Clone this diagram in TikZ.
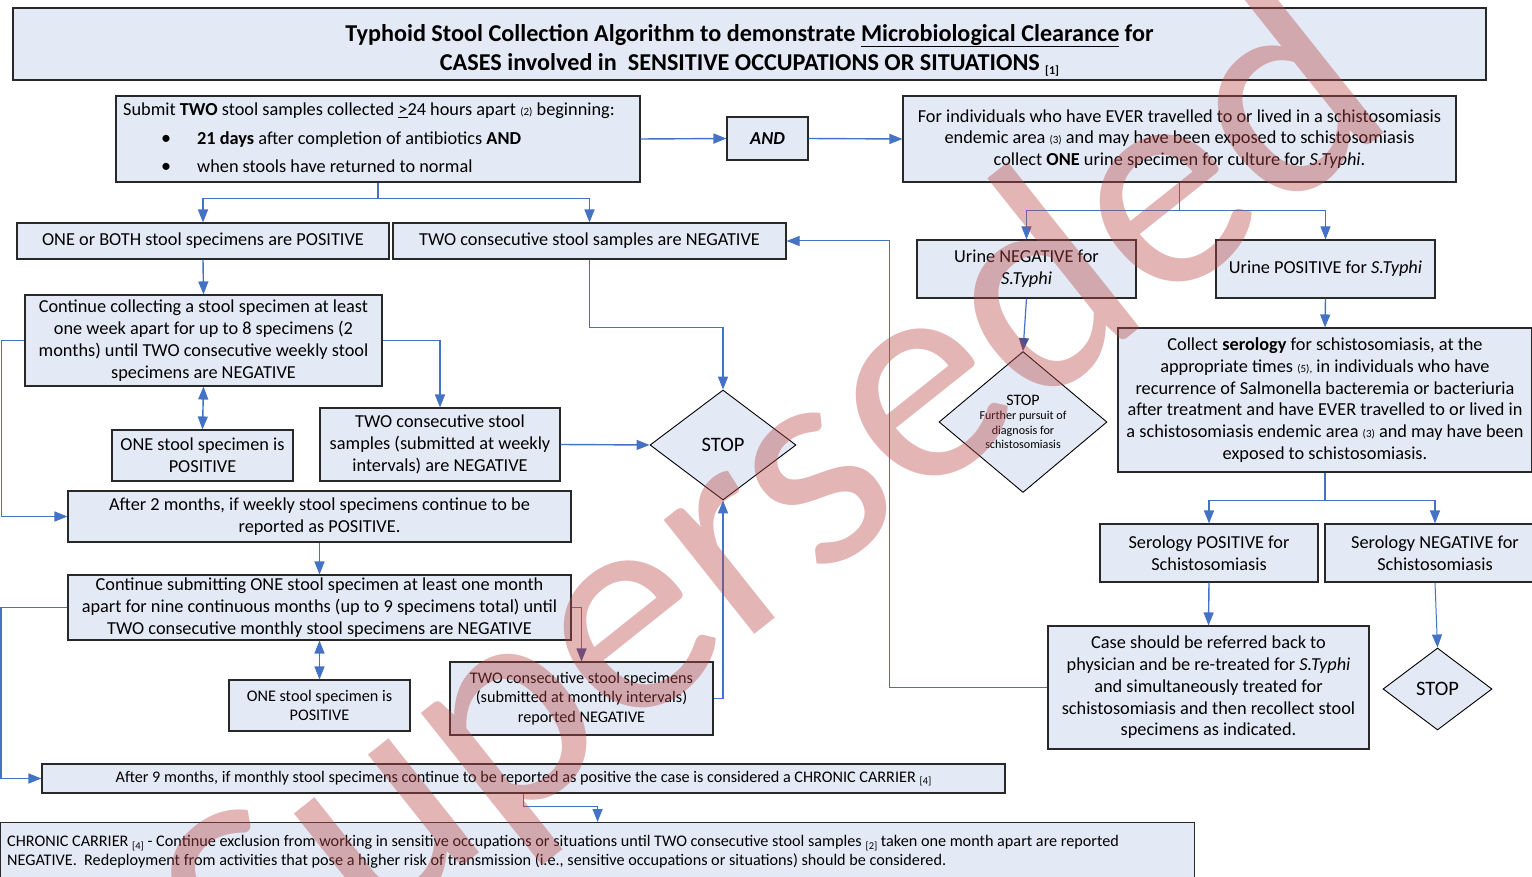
\documentclass[tikz,border=0pt]{standalone}
\usepackage{fontspec}
\setmainfont{Carlito}
\usetikzlibrary{arrows.meta,shapes.geometric,calc}
\definecolor{boxfill}{RGB}{228,234,245}
\definecolor{boxline}{RGB}{40,40,40}
\definecolor{arrblue}{RGB}{68,114,196}
\definecolor{arrnavy}{RGB}{70,80,150}
\definecolor{wmred}{RGB}{185,70,70}
\newcommand{\rf}[1]{{\fontsize{11}{11}\selectfont #1}}
\newcommand{\rfs}[1]{\raisebox{-2.5pt}{\fontsize{10.5}{11}\selectfont #1}}
\begin{document}
\begin{tikzpicture}[x=1pt,y=-1pt,
  box/.style={draw=boxline, fill=boxfill, line width=1.1pt, align=center, inner sep=1pt, font=\fontsize{18.3}{22}\selectfont},
  sbox/.style={box, font=\fontsize{16.2}{19.5}\selectfont},
  dia/.style={diamond, draw=black, fill=boxfill, line width=0.9pt, inner sep=0pt, align=center},
  arr/.style={draw=arrblue, line width=1.4pt, -{Triangle[length=13pt,width=10pt]}},
  arrn/.style={draw=arrblue, line width=1.2pt, -{Triangle[length=13pt,width=10pt,color=arrnavy]}},
  darr/.style={draw=arrblue, line width=1.4pt, {Triangle[length=13pt,width=10pt]}-{Triangle[length=13pt,width=10pt]}},
  thin/.style={draw=arrblue, line width=1.0pt, -{Triangle[length=13pt,width=10pt]}}
]
\fill[white] (0,0) rectangle (1532,877);
\useasboundingbox (0,0) rectangle (1532,877);

% title
\node[box, minimum width=1473, minimum height=72] (title) at (749.5,44) {};
\node[align=center, inner sep=0pt, font=\fontsize{24.2}{29}\selectfont\bfseries] (titletxt) at (749.5,50)
 {Typhoid Stool Collection Algorithm to demonstrate \underline{Microbiological Clearance} for\\
  CASES involved in\ \ SENSITIVE OCCUPATIONS OR SITUATIONS \raisebox{-4pt}{\fontsize{12}{12}\selectfont[1]}};

% left top
\node[box, minimum width=524, minimum height=86] (submit) at (378,139) {};
\node[anchor=west, align=left, inner sep=0pt, font=\fontsize{18.3}{28.5}\selectfont] (submittxt) at (123,138)
 {Submit \textbf{TWO} stool samples collected \underline{>}24 hours apart \rf{(2)} beginning:\\
  \hspace*{38pt}\makebox[36pt][l]{\fontsize{20}{20}\selectfont\textbullet}\textbf{21 days} after completion of antibiotics \textbf{AND}\\
  \hspace*{38pt}\makebox[36pt][l]{\fontsize{20}{20}\selectfont\textbullet}when stools have returned to normal};
\node[box, minimum width=81, minimum height=43] (and) at (767.5,138.5) {\textbf{\textit{AND}}};
\node[box, minimum width=553, minimum height=86, font=\fontsize{18.3}{21.5}\selectfont] (urine) at (1179.5,139)
 {For individuals who have EVER travelled to or lived in a schistosomiasis\\
  endemic area \rf{(3)} and may have been exposed to schistosomiasis\\
  collect \textbf{ONE} urine specimen for culture for \textit{S.Typhi}.};

\node[box, minimum width=372, minimum height=36] (pos) at (203,241) {ONE or BOTH stool specimens are POSITIVE};
\node[box, minimum width=393, minimum height=36] (neg) at (589.5,241) {TWO consecutive stool samples are NEGATIVE};
\node[box, minimum width=357, minimum height=91] (cont1) at (203.5,340.5)
 {Continue collecting a stool specimen at least\\ one week apart for up to 8 specimens (2\\ months) until TWO consecutive weekly stool\\ specimens are NEGATIVE};
\node[box, minimum width=181, minimum height=51] (one1) at (202.5,455.5) {ONE stool specimen is\\ POSITIVE};
\node[box, minimum width=240, minimum height=73] (two1) at (440,444.5)
 {TWO consecutive stool\\ samples (submitted at weekly\\ intervals) are NEGATIVE};
\node[dia, minimum width=146, minimum height=110, font=\fontsize{20.5}{22}\selectfont] (stop1) at (723,445) {STOP};
\node[box, minimum width=503, minimum height=51] (after2) at (319.5,516.5)
 {After 2 months, if weekly stool specimens continue to be\\ reported as POSITIVE.};
\node[box, minimum width=503, minimum height=65] (cont2) at (319.5,607.5)
 {Continue submitting ONE stool specimen at least one month\\ apart for nine continuous months (up to 9 specimens total) until\\ TWO consecutive monthly stool specimens are NEGATIVE};
\node[sbox, minimum width=181, minimum height=51] (one2) at (319.5,705.5) {ONE stool specimen is\\ POSITIVE};
\node[sbox, minimum width=263, minimum height=73] (two2) at (581.5,698.5)
 {TWO consecutive stool specimens\\ (submitted at monthly intervals)\\ reported NEGATIVE};
\node[sbox, minimum width=963, minimum height=29] (after9) at (523.5,778.5)
 {After 9 months, if monthly stool specimens continue to be reported as positive the case is considered a CHRONIC CARRIER \rfs{[4]}};
\node[box, minimum width=1194, minimum height=62, anchor=north west] (chronic) at (0,822) {};
\node[anchor=west, align=left, inner sep=0pt, font=\fontsize{16.2}{19}\selectfont] (chronictxt) at (7,852)
 {CHRONIC CARRIER \rfs{[4]} - Continue exclusion from working in sensitive occupations or situations until TWO consecutive stool samples \rfs{[2]} taken one month apart are reported\\
  NEGATIVE.\ \ Redeployment from activities that pose a higher risk of transmission (i.e., sensitive occupations or situations) should be considered.};

% right side
\node[box, minimum width=219, minimum height=58] (uneg) at (1026.5,269) {Urine NEGATIVE for\\ \textit{S.Typhi}};
\node[box, minimum width=219, minimum height=58] (upos) at (1325.5,269) {Urine POSITIVE for \textit{S.Typhi}};
\node[dia, minimum width=168, minimum height=130, font=\fontsize{12.1}{14.5}\selectfont] (stop2) at (1023,422)
 {{\fontsize{16}{17}\selectfont STOP}\\[0pt] Further pursuit of\\ diagnosis for\\ schistosomiasis};
\node[box, minimum width=414, minimum height=144, font=\fontsize{18.3}{21.8}\selectfont] (sero) at (1325,400)
 {Collect \textbf{serology} for schistosomiasis, at the\\ appropriate times \rf{(5),} in individuals who have\\ recurrence of Salmonella bacteremia or bacteriuria\\ after treatment and have EVER travelled to or lived in\\ a schistosomiasis endemic area \rf{(3)} and may have been\\ exposed to schistosomiasis.};
\node[box, minimum width=218, minimum height=58] (spos) at (1209,553) {Serology POSITIVE for\\ Schistosomiasis};
\node[box, minimum width=220, minimum height=58] (sneg) at (1435,553) {Serology NEGATIVE for\\ Schistosomiasis};
\node[box, minimum width=321, minimum height=123, font=\fontsize{18.3}{21.7}\selectfont] (case) at (1208.5,687.5)
 {Case should be referred back to\\ physician and be re-treated for \textit{S.Typhi}\\ and simultaneously treated for\\ schistosomiasis and then recollect stool\\ specimens as indicated.};
\node[dia, minimum width=109, minimum height=82, font=\fontsize{20.5}{22}\selectfont] (stop3) at (1437.5,689) {STOP};

% connectors
\draw[arr] (submit.east) -- (and.west);
\draw[arr] (and.east) -- (urine.west);
\coordinate (j1) at ($(submit.south)+(0,16)$);
\draw[draw=arrblue, line width=1.4pt] (submit.south) -- (j1);
\draw[arr] (j1) -| (pos.north);
\draw[arr] (j1) -| (neg.north);
\draw[arr] (pos.south) -- (cont1.north);
\draw[darr] (cont1.south) -- (one1.north);
\draw[arr] (cont1.east) -| (two1.north);
\draw[arr] (two1.east) -- (stop1.west);
\draw[arr] (neg.south) -- ++(0,68) -| (stop1.north);
\draw[arr] (cont1.west) -- ++(-23,0) |- (after2.west);
\draw[arr] (after2.south) -- (cont2.north);
\draw[darr] (cont2.south) -- (one2.north);
\draw[arrn] (cont2.east) -- ++(9,0) -| (two2.north);
\draw[arr] (two2.east) -| (stop1.south);
\draw[arr] (cont2.west) -- ++(-66.5,0) |- (after9.west);
\draw[arr] (after9.south) -- ++(0,13) -| (chronic.north);

\coordinate (j2) at ($(urine.south)+(0,28)$);
\draw[draw=arrblue, line width=1.2pt] (urine.south) -- (j2);
\draw[thin] (j2) -| (uneg.north);
\draw[thin] (j2) -| (upos.north);
\draw[arrn] (uneg.south) -- (stop2.north);
\draw[arr] (upos.south) -- (sero.north);
\coordinate (j3) at ($(sero.south)+(0,28)$);
\draw[draw=arrblue, line width=1.4pt] (sero.south) -- (j3);
\draw[arr] (j3) -| (spos.north);
\draw[arr] (j3) -| (sneg.north);
\draw[arr] (spos.south) -- (case.north);
\draw[thin] (sneg.south) -- (stop3.north);
\draw[thin] (case.west) -- ++(-158,0) |- (neg.east);

% watermark
\node[rotate=38.5, text=wmred, text opacity=0.4, inner sep=0pt, font=\fontsize{305}{305}\selectfont] (wm) at (780,510) {Superseded};
\end{tikzpicture}
\end{document}
